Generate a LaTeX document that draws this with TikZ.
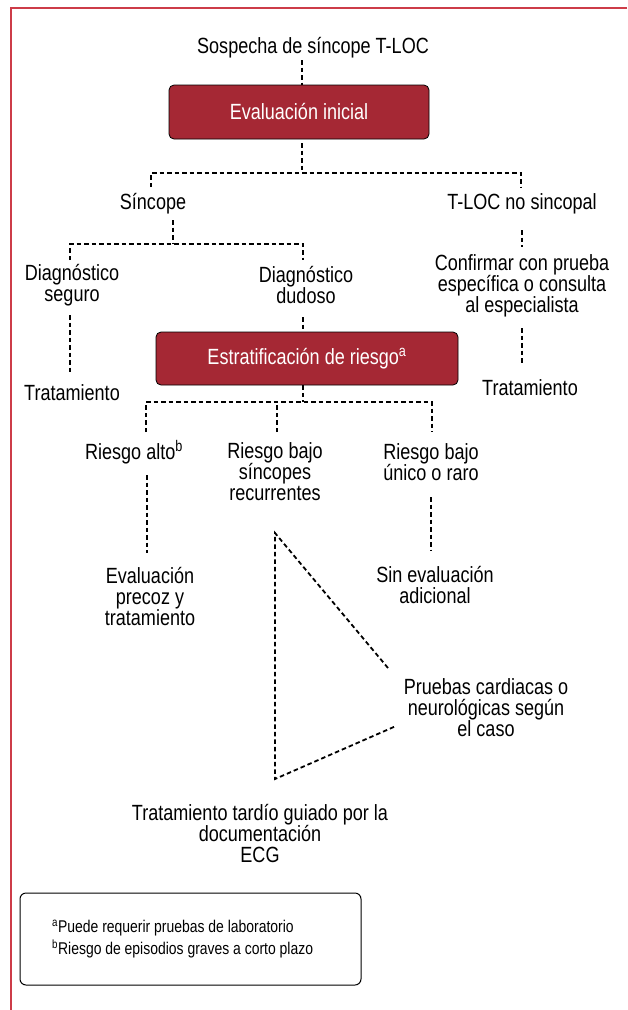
\documentclass[tikz,border=0pt]{standalone}
\usepackage{fontspec}
\setmainfont{Liberation Sans}[FakeStretch=0.82]
\usetikzlibrary{calc}
\definecolor{boxred}{RGB}{165,40,52}
\definecolor{framered}{RGB}{205,60,72}
\begin{document}
\begin{tikzpicture}[x=1pt,y=-1pt,
  lbl/.style={font=\fontsize{22}{21}\selectfont, align=center, inner sep=0pt},
  redbox/.style={draw=black, line width=0.8pt, fill=boxred, rounded corners=5pt, text=white, font=\fontsize{22}{21}\selectfont, inner sep=0pt},
  dl/.style={draw=black, line width=1.8pt, dash pattern=on 4.5pt off 3pt},
  footbox/.style={draw=black, rounded corners=6pt, line width=1pt},
  foottext/.style={font=\fontsize{17}{21.5}\selectfont, align=left, inner sep=0pt, anchor=west}
]
\useasboundingbox (0,0) rectangle (627,1010);
\draw[framered, line width=1.5pt] (627,8) -- (11,8) -- (11,1010);

% nodes
\node[lbl] (sosp) at (313,48) {Sospecha de síncope T-LOC};
\node[redbox, minimum width=260pt, minimum height=54pt] (ini) at (299,112) {Evaluación inicial};
\node[lbl] (sinc) at (153,204) {Síncope};
\node[lbl] (tloc) at (522,204) {T-LOC no sincopal};
\node[lbl] (dseg) at (72,285) {Diagnóstico\\seguro};
\node[lbl] (ddud) at (306,285) {Diagnóstico\\dudoso};
\node[lbl] (conf) at (522,286) {Confirmar con prueba\\específica o consulta\\al especialista};
\node[lbl] (trat1) at (72,393) {Tratamiento};
\node[redbox, minimum width=302pt, minimum height=53pt] (estr) at (307,358.5) {Estratificación de riesgo\textsuperscript{a}};
\node[lbl] (trat2) at (530,388) {Tratamiento};
\node[lbl] (ralto) at (134,452) {Riesgo alto\textsuperscript{b}};
\node[lbl] (rrec) at (275,472) {Riesgo bajo\\síncopes\\recurrentes};
\node[lbl] (runi) at (431,462) {Riesgo bajo\\único o raro};
\node[lbl] (eprec) at (150,596) {Evaluación\\precoz y\\tratamiento};
\node[lbl] (sinev) at (435,585) {Sin evaluación\\adicional};
\node[lbl] (prueb) at (486,708) {Pruebas cardiacas o\\neurológicas según\\el caso};
\node[lbl] (ttard) at (260,833) {Tratamiento tardío guiado por la\\documentación\\ECG};
\node[footbox, minimum width=341pt, minimum height=92pt] (foot) at (190.5,939) {};
\node[foottext] (fn) at (52,939) {\textsuperscript{a}Puede requerir pruebas de laboratorio\\\textsuperscript{b}Riesgo de episodios graves a corto plazo};

% connector points
\coordinate (s0) at (302,60);
\coordinate (s1) at (302,143);
\coordinate (h1) at (302,173);
\coordinate (h1l) at (151,187);
\coordinate (h1r) at (521,187);
\coordinate (s2) at (173,220);
\coordinate (h2) at (173,244);
\coordinate (h2l) at (70,260);
\coordinate (h2r) at (303,260);
\coordinate (t1a) at (522,230);
\coordinate (t1b) at (522,247);
\coordinate (sg1) at (70,315);
\coordinate (sg2) at (70,373);
\coordinate (du1) at (303,317);
\coordinate (t2a) at (522,328);
\coordinate (t2b) at (522,365);
\coordinate (h3) at (303,402);
\coordinate (h3l) at (146,432);
\coordinate (h3m) at (277,432);
\coordinate (h3r) at (432,432);
\coordinate (ra1) at (147,475);
\coordinate (ra2) at (147,553);
\coordinate (ru1) at (431,497);
\coordinate (ru2) at (431,551);
\coordinate (tA) at (275,533);
\coordinate (tB) at (388,668);
\coordinate (tC) at (275,779);
\coordinate (tD) at (396,726);

% connectors
\draw[dl] (s0) -- (s0 |- ini.north);
\draw[dl] (s1) -- (h1);
\draw[dl] (h1l) |- (h1) -| (h1r);
\draw[dl] (s2) -- (h2);
\draw[dl] (h2l) |- (h2) -| (h2r);
\draw[dl] (t1a) -- (t1b);
\draw[dl] (sg1) -- (sg2);
\draw[dl] (du1) -- (du1 |- estr.north);
\draw[dl] (t2a) -- (t2b);
\draw[dl] (h3 |- estr.south) -- (h3);
\draw[dl] (h3l) |- (h3) -| (h3r);
\draw[dl] (h3m) -- (h3m |- h3);
\draw[dl] (ra1) -- (ra2);
\draw[dl] (ru1) -- (ru2);
\draw[dl] (tB) -- (tA) -- (tC) -- (tD);
\end{tikzpicture}
\end{document}
